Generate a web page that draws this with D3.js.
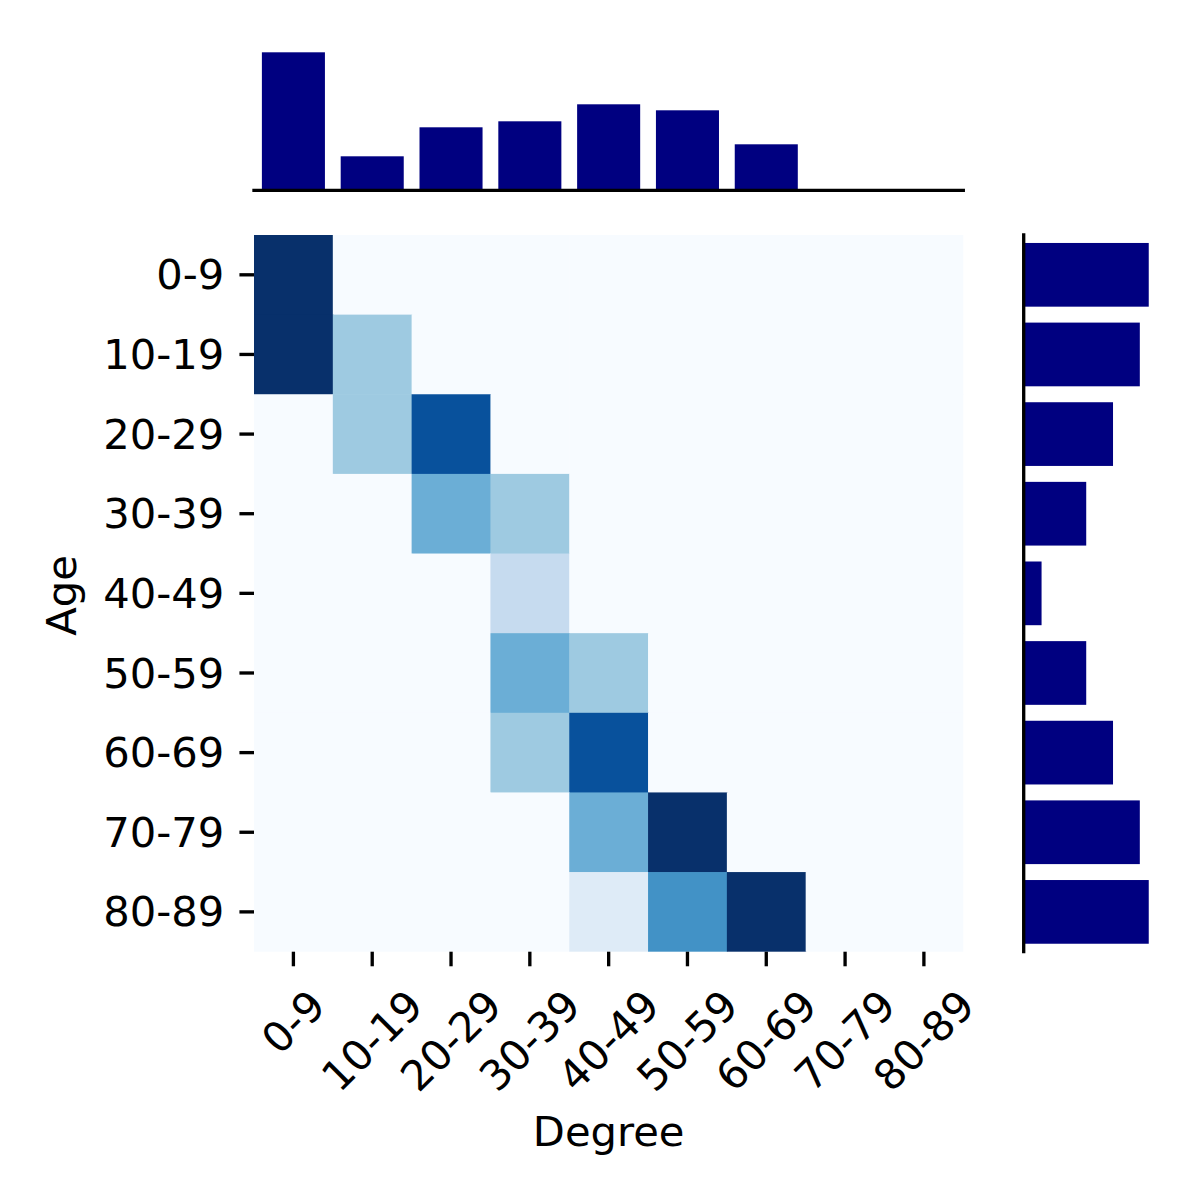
<!DOCTYPE html>
<html>
<head>
<meta charset="utf-8">
<script src="https://cdn.jsdelivr.net/npm/d3@7"></script>
<style>
  html, body { margin: 0; padding: 0; background: #ffffff; }
  svg { display: block; font-family: "DejaVu Sans", sans-serif; }
</style>
</head>
<body>
<svg id="chart" width="1200" height="1200"></svg>
<script>
// ---------------- data ----------------
const ageLabels = ["0-9", "10-19", "20-29", "30-39", "40-49", "50-59", "60-69", "70-79", "80-89"];
const degreeLabels = ["0-9", "10-19", "20-29", "30-39", "40-49", "50-59", "60-69", "70-79", "80-89"];
// rows = Age, columns = Degree
const heatRow0 = [1.0, 0, 0, 0, 0, 0, 0, 0, 0];
const heatRow1 = [1.0, 0.375, 0, 0, 0, 0, 0, 0, 0];
const heatRow2 = [0, 0.375, 0.875, 0, 0, 0, 0, 0, 0];
const heatRow3 = [0, 0, 0.5, 0.375, 0, 0, 0, 0, 0];
const heatRow4 = [0, 0, 0, 0.25, 0, 0, 0, 0, 0];
const heatRow5 = [0, 0, 0, 0.5, 0.375, 0, 0, 0, 0];
const heatRow6 = [0, 0, 0, 0.375, 0.875, 0, 0, 0, 0];
const heatRow7 = [0, 0, 0, 0, 0.5, 1.0, 0, 0, 0];
const heatRow8 = [0, 0, 0, 0, 0.125, 0.625, 1.0, 0, 0];
const heatValues = [heatRow0, heatRow1, heatRow2, heatRow3, heatRow4, heatRow5, heatRow6, heatRow7, heatRow8];
// marginal distributions
const degreeTotals = [138, 34, 63, 69, 86, 80, 46, 0, 0];
const ageTotals = [14, 13, 10, 7, 2, 7, 10, 13, 14];
// matplotlib "Blues" colormap anchors
const bluesStops = ["#f7fbff", "#deebf7", "#c6dbef", "#9ecae1", "#6baed6", "#4292c6", "#2171b5", "#08519c", "#08306b"];

// ---------------- layout ----------------
const FS = 41.67;          // 10pt @ 300dpi
const LW = 3.33;           // 0.8pt
const TICK = 14.58;        // 3.5pt
const PAD = 14.58;

const heat = { x0: 254, x1: 963.3, y0: 235, y1: 951.7 };
const topAx = { y0: 45.4, y1: 190.3 };
const rightAx = { x0: 1023.7, x1: 1155 };
const barColor = "#000080";

const svg = d3.select("#chart");

const x = d3.scaleBand().domain(degreeLabels).range([heat.x0, heat.x1]).padding(0);
const y = d3.scaleBand().domain(ageLabels).range([heat.y0, heat.y1]).padding(0);

const vmax = d3.max(heatValues.flat());
const color = d3.scaleLinear()
  .domain(bluesStops.map((_, i) => i / (bluesStops.length - 1) * vmax))
  .range(bluesStops)
  .interpolate(d3.interpolateRgb)
  .clamp(true);

// ---------------- heatmap ----------------
const cells = [];
heatValues.forEach((row, i) => row.forEach((v, j) => cells.push({ age: ageLabels[i], deg: degreeLabels[j], v })));

svg.append("g").selectAll("rect").data(cells).join("rect")
  .attr("x", d => x(d.deg))
  .attr("y", d => y(d.age))
  .attr("width", d => x.bandwidth() + (d.deg === degreeLabels[degreeLabels.length - 1] ? 0 : 0.6))
  .attr("height", d => y.bandwidth() + (d.age === ageLabels[ageLabels.length - 1] ? 0 : 0.6))
  .attr("fill", d => color(d.v));

// y axis (Age)
const yAxis = d3.axisLeft(y).tickSize(TICK).tickPadding(PAD);
const gy = svg.append("g").attr("transform", `translate(${heat.x0},0)`).call(yAxis);
gy.select(".domain").remove();
gy.selectAll(".tick line").attr("stroke", "#000").attr("stroke-width", LW);
gy.selectAll(".tick text")
  .attr("font-size", FS).attr("fill", "#000")
  .attr("font-family", "DejaVu Sans, sans-serif")
  .attr("x", -(TICK + PAD + 0.5))
  .attr("dy", null)
  .attr("dominant-baseline", "auto")
  .attr("y", FS * 0.35);

// x axis (Degree)
const xAxis = d3.axisBottom(x).tickSize(TICK).tickPadding(PAD);
const gx = svg.append("g").attr("transform", `translate(0,${heat.y1})`).call(xAxis);
gx.select(".domain").remove();
gx.selectAll(".tick line").attr("stroke", "#000").attr("stroke-width", LW);
gx.selectAll(".tick text")
  .attr("font-size", FS).attr("fill", "#000")
  .attr("font-family", "DejaVu Sans, sans-serif")
  .attr("dy", null)
  .attr("text-anchor", "middle")
  .each(function() {
    const t = d3.select(this);
    const W = this.getComputedTextLength();
    const H = FS * 1.164;
    const side = (W + H) / Math.SQRT2;
    const cy = TICK + PAD + side / 2;
    t.attr("x", 0).attr("y", FS * 0.346)
     .attr("transform", `translate(0,${cy}) rotate(-45)`);
  });

// axis labels
svg.append("text")
  .attr("x", (heat.x0 + heat.x1) / 2).attr("y", 1146)
  .attr("text-anchor", "middle").attr("font-size", FS).attr("fill", "#000")
  .text("Degree");
svg.append("text")
  .attr("transform", `translate(76,${(heat.y0 + heat.y1) / 2 + 2}) rotate(-90)`)
  .attr("text-anchor", "middle").attr("font-size", FS).attr("fill", "#000")
  .text("Age");

// ---------------- top marginal ----------------
const topY = d3.scaleLinear().domain([0, d3.max(degreeTotals) * 1.05]).range([topAx.y1, topAx.y0]);
const bwTop = x.bandwidth() * 0.8;
svg.append("g").selectAll("rect").data(degreeTotals.map((v, i) => ({ k: degreeLabels[i], v })))
  .join("rect")
  .attr("x", d => x(d.k) + (x.bandwidth() - bwTop) / 2)
  .attr("y", d => topY(d.v))
  .attr("width", bwTop)
  .attr("height", d => topY(0) - topY(d.v))
  .attr("fill", barColor);
svg.append("line")
  .attr("x1", heat.x0).attr("x2", heat.x1)
  .attr("y1", topAx.y1).attr("y2", topAx.y1)
  .attr("stroke", "#000").attr("stroke-width", LW).attr("stroke-linecap", "square");

// ---------------- right marginal ----------------
const rightX = d3.scaleLinear().domain([0, d3.max(ageTotals) * 1.05]).range([rightAx.x0, rightAx.x1]);
const bhRight = y.bandwidth() * 0.8;
svg.append("g").selectAll("rect").data(ageTotals.map((v, i) => ({ k: ageLabels[i], v })))
  .join("rect")
  .attr("x", rightX(0))
  .attr("y", d => y(d.k) + (y.bandwidth() - bhRight) / 2)
  .attr("width", d => rightX(d.v) - rightX(0))
  .attr("height", bhRight)
  .attr("fill", barColor);
svg.append("line")
  .attr("x1", rightAx.x0).attr("x2", rightAx.x0)
  .attr("y1", heat.y0).attr("y2", heat.y1)
  .attr("stroke", "#000").attr("stroke-width", LW).attr("stroke-linecap", "square");
</script>
</body>
</html>
